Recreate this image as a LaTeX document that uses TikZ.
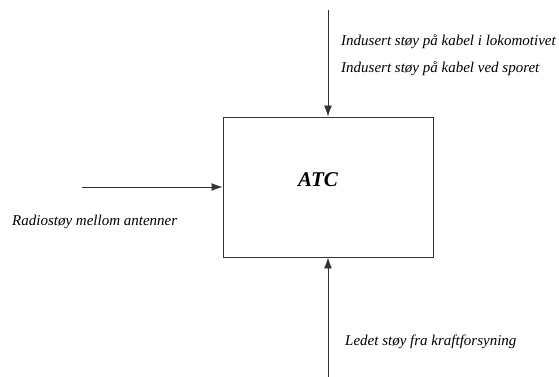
\documentclass[tikz,border=0pt]{standalone}
\usepackage{fontspec}
\setmainfont{Liberation Serif}
\usepackage{tikz}
\usetikzlibrary{arrows.meta,positioning}

\begin{document}
\begin{tikzpicture}[
    x=1pt, y=-1pt,
    block/.style={rectangle, draw=black!80, line width=0.9pt,
                  minimum width=210pt, minimum height=140pt, inner sep=0pt},
    arrow/.style={-{Latex[length=11pt,width=8pt]}, line width=0.9pt, draw=black!80},
    lbl/.style={anchor=west, inner sep=0pt,
                font=\fontsize{15}{18}\selectfont\itshape}
]
\useasboundingbox (0,0) rectangle (559,377);

\node[block, label={[xshift=-10pt, yshift=7pt,
      font=\fontsize{21}{24}\selectfont\bfseries\itshape]center:ATC}]
      (atc) at (328,187) {};

\coordinate (topin) at (328,10);
\coordinate (leftin) at (82,187);
\coordinate (botin) at (328,377);

\draw[arrow] (topin) -- (atc.north);
\draw[arrow] (leftin) -- (atc.west);
\draw[arrow] (botin) -- (atc.south);

\node[lbl] (lok) at (341,42) {Indusert støy på kabel i lokomotivet};
\node[lbl] (spor) at (341,69) {Indusert støy på kabel ved sporet};
\node[lbl] (radio) at (12,222) {Radiostøy mellom antenner};
\node[lbl] (kraft) at (345,342) {Ledet støy fra kraftforsyning};
\end{tikzpicture}
\end{document}
